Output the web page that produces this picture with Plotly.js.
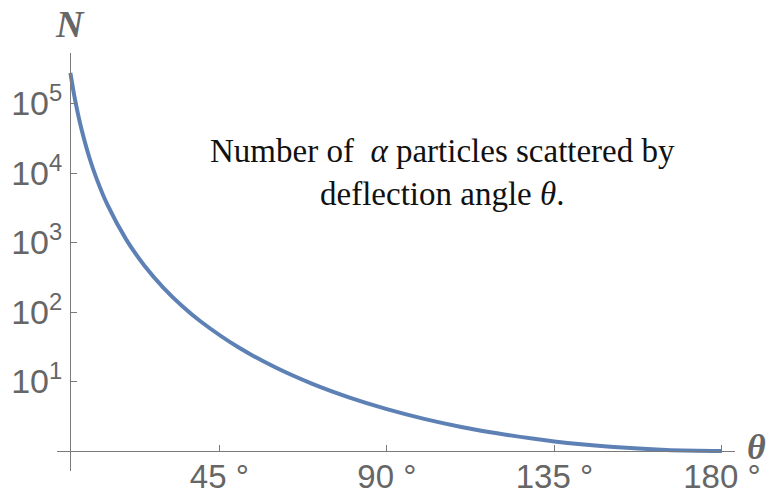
<!DOCTYPE html>
<html>
<head>
<meta charset="utf-8">
<script src="https://cdn.plot.ly/plotly-3.0.1.min.js"></script>
<style>html,body{margin:0;padding:0;background:#fff;}#plot{width:766px;height:491px;}</style>
</head>
<body>
<div id="plot"></div>
<script>
// Deflection angle (degrees) and number of scattered particles
var theta = [5, 6, 7, 8, 10, 12, 15, 20, 25, 30, 35, 40, 50, 60, 70, 80, 90, 100, 110, 120, 135, 150, 165, 180];
var counts = [276000, 133000, 72000, 42200, 17300, 8380, 3440, 1100, 456, 223, 122, 73, 31.3, 16, 9.24, 5.86, 4, 2.9, 2.22, 1.78, 1.37, 1.15, 1.035, 1];
var xTickVals = [45, 90, 135, 180];
var xTickText = ["45 °", "90 °", "135 °", "180 °"];
var yTickVals = [10, 100, 1000, 10000, 100000];
var yTickText = ["10<sup>1</sup>", "10<sup>2</sup>", "10<sup>3</sup>", "10<sup>4</sup>", "10<sup>5</sup>"];

var grey = '#666666';
var axisColor = '#7a7a7a';

var trace = {
  x: theta, y: counts, type: 'scatter', mode: 'lines',
  line: {color: '#5E81B5', width: 4, shape: 'spline', smoothing: 1},
  hoverinfo: 'skip'
};

var layout = {
  width: 766, height: 491,
  margin: {l: 57, r: 31, t: 53, b: 20, pad: 0},
  paper_bgcolor: '#fff', plot_bgcolor: '#fff',
  showlegend: false,
  xaxis: {
    range: [1.4, 183.5],
    anchor: 'free', position: 0.0478,
    showline: true, linecolor: axisColor, linewidth: 1.3,
    showgrid: false, zeroline: false,
    tickmode: 'array', tickvals: xTickVals, ticktext: xTickText,
    ticks: 'inside', ticklen: 6, tickcolor: axisColor, tickwidth: 1,
    tickfont: {family: 'Liberation Sans, Arial, sans-serif', size: 33, color: grey},
    ticklabelstandoff: -4
  },
  yaxis: {
    type: 'log',
    range: [-0.288, 5.727],
    anchor: 'free', position: 0.0192,
    showline: true, linecolor: axisColor, linewidth: 1.3,
    showgrid: false, zeroline: false,
    tickmode: 'array', tickvals: yTickVals, ticktext: yTickText,
    ticks: 'inside', ticklen: 6, tickcolor: axisColor, tickwidth: 1,
    tickfont: {family: 'Liberation Sans, Arial, sans-serif', size: 34, color: grey},
    ticklabelstandoff: 1
  },
  annotations: [
    {xref: 'paper', yref: 'paper', x: 0.0192, y: 1.069, text: '<i>N</i>', showarrow: false,
     xanchor: 'center', yanchor: 'middle',
     font: {family: 'Liberation Serif, Times New Roman, serif', size: 38, color: grey, weight: 'bold', style: 'italic'}},
    {xref: 'paper', yref: 'paper', x: 1.0324, y: 0.0574, text: '<i>θ</i>', showarrow: false,
     xanchor: 'center', yanchor: 'middle',
     font: {family: 'Liberation Serif, Times New Roman, serif', size: 36, color: grey, weight: 'bold', style: 'italic'}},
    {xref: 'paper', yref: 'paper', x: 0.568, y: 0.715,
     text: 'Number of  <i>α</i> particles scattered by<br>deflection angle <i>θ</i>.',
     showarrow: false, xanchor: 'center', yanchor: 'middle', align: 'center',
     font: {family: 'Liberation Serif, Times New Roman, serif', size: 33, color: '#111'}}
  ]
};

Plotly.newPlot('plot', [trace], layout, {displayModeBar: false, staticPlot: true});
</script>
</body>
</html>
